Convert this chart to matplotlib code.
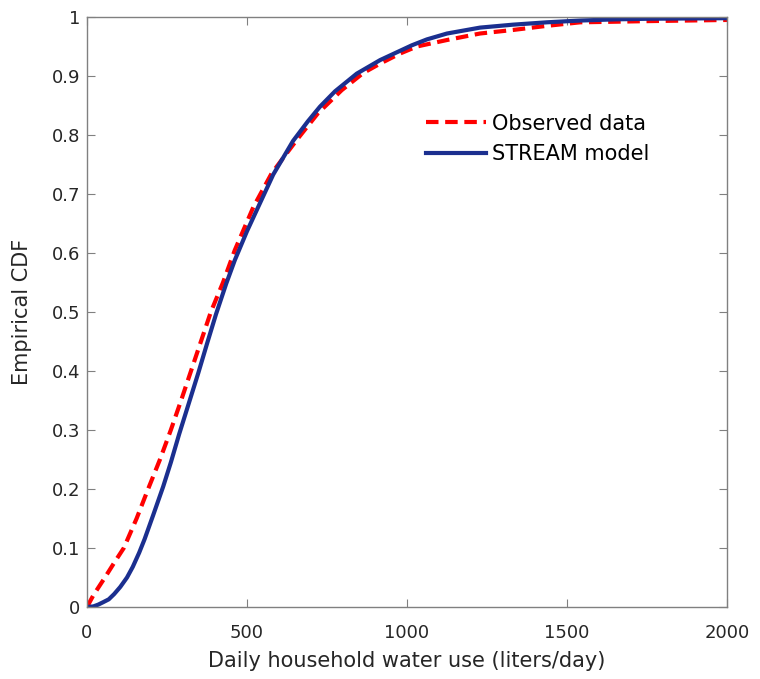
import matplotlib.pyplot as plt

# values
obs_x = [0, 20, 56, 85, 115, 155, 191, 228, 262, 294, 325, 356, 387, 425,
         462, 520, 577, 656, 722, 796, 863, 916, 978, 1031, 1125, 1228,
         1331, 1437, 1541, 1650, 1750, 2000]
obs_cdf = [0, 0.02, 0.05, 0.075, 0.10, 0.15, 0.20, 0.25, 0.30, 0.35, 0.40,
           0.45, 0.50, 0.55, 0.605, 0.678, 0.735, 0.792, 0.837, 0.876,
           0.905, 0.921, 0.938, 0.950, 0.961, 0.972, 0.978, 0.985, 0.991,
           0.992, 0.993, 0.995]

model_x = [0, 20, 35, 50, 68, 85, 104, 125, 143, 163, 180, 207, 238, 262,
           288, 318, 348, 376, 403, 435, 462, 500, 535, 582, 644, 690, 728,
           775, 843, 916, 1015, 1062, 1125, 1228, 1331, 1437, 1541, 1650,
           1750, 2000]
model_cdf = [0, 0.001, 0.004, 0.008, 0.013, 0.022, 0.034, 0.05, 0.068, 0.092,
             0.115, 0.156, 0.204, 0.245, 0.293, 0.345, 0.397, 0.448, 0.496,
             0.548, 0.588, 0.637, 0.678, 0.733, 0.790, 0.823, 0.848, 0.874,
             0.904, 0.927, 0.952, 0.962, 0.972, 0.982, 0.987, 0.991, 0.994,
             0.996, 0.997, 0.998]

fig = plt.figure(figsize=(7.6, 6.79), dpi=100)
ax = fig.add_axes([87 / 760, 72 / 679, 640 / 760, 590 / 679])

ax.plot(obs_x, obs_cdf, color='#ff0000', linewidth=3, dashes=(3, 1.6),
        label='Observed data')
ax.plot(model_x, model_cdf, color='#1b2f8f', linewidth=3,
        label='STREAM model')

ax.set_xlim(0, 2000)
ax.set_ylim(0, 1)
ax.set_xticks([0, 500, 1000, 1500, 2000])
ax.set_yticks([i / 10 for i in range(11)])
ax.set_yticklabels(['0', '0.1', '0.2', '0.3', '0.4', '0.5', '0.6', '0.7',
                    '0.8', '0.9', '1'])
ax.tick_params(direction='in', top=True, right=True, length=6,
               labelsize=13, colors='#808080', labelcolor='#262626', pad=5)
ax.tick_params(axis='x', pad=12)
for s in ax.spines.values():
    s.set_color('#808080')
    s.set_linewidth(1)

ax.set_xlabel('Daily household water use (liters/day)', fontsize=15,
              color='#262626', labelpad=7)
ax.set_ylabel('Empirical CDF', fontsize=15, color='#262626', labelpad=14)

ax.legend(loc='upper left', bbox_to_anchor=(0.5, 0.868), frameon=False,
          fontsize=15, handlelength=2.9, handletextpad=0.3, labelspacing=0.5)

plt.savefig('out.png', dpi=100)
